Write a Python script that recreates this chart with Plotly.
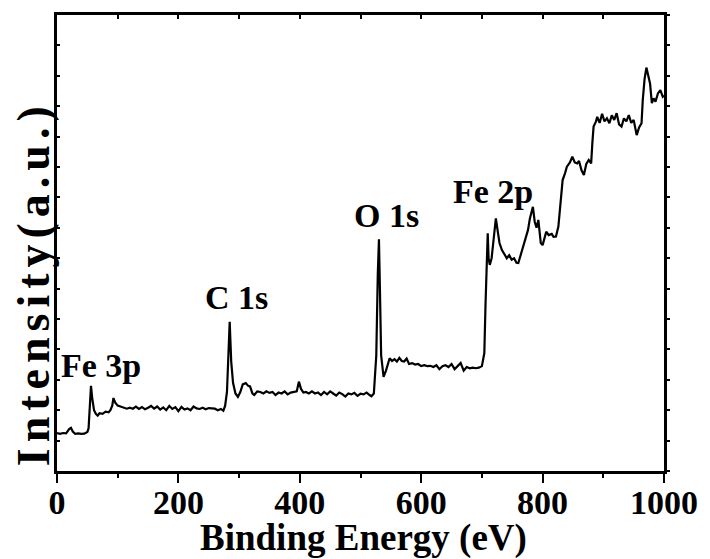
import plotly.graph_objects as go

# Binding energy (eV) and intensity (a.u.)
energy = [0, 5, 10, 15, 20, 23, 26, 30, 35, 40, 45, 50, 52, 54, 56, 58, 61, 64, 67, 70,
          75, 80, 85, 88, 91, 93, 96, 100, 105, 110, 115, 120, 125, 130, 135, 140, 145, 150, 155, 160,
          165, 170, 175, 180, 185, 190, 195, 200, 205, 210, 215, 220, 225, 230, 235, 240, 245, 250, 255, 260,
          265, 270, 274, 277, 280, 282, 284.5, 287, 290, 294, 298, 302, 306, 311, 315, 318, 322, 325, 330, 335,
          340, 345, 350, 355, 360, 365, 370, 375, 380, 385, 390, 395, 398.5, 402, 406, 410, 415, 420, 425, 430,
          435, 440, 445, 450, 455, 460, 465, 470, 475, 480, 485, 490, 495, 500, 505, 510, 515, 518, 522, 526,
          528.5, 530.4, 532, 534, 538, 542, 548, 552, 556, 560, 564, 568, 572, 576, 580, 585, 590, 595, 600, 605,
          610, 615, 620, 625, 630, 635, 640, 645, 650, 655, 660, 665, 670, 675, 680, 685, 690, 695, 700, 704,
          706, 708, 709.6, 711, 713, 716, 719, 721, 723, 726, 729, 733, 737, 741, 745, 749, 753, 757, 760, 764,
          767.6, 771, 776, 779, 782, 784, 787, 790, 793, 797, 800, 803, 806, 810, 815, 818, 822, 826, 829, 833,
          837, 840, 845, 849, 853, 857, 860, 864, 868, 872, 876, 880, 882, 884, 888, 890, 894, 898, 902, 906,
          910, 914, 918, 922, 926, 930, 934, 938, 942, 946, 950, 955, 959, 963, 965, 968, 971, 974, 977, 980,
          983, 986, 990, 994, 998, 1000]
intensity = [1.25, 1.22, 1.25, 1.24, 1.38, 1.42, 1.30, 1.22, 1.24, 1.22, 1.23, 1.28, 1.40, 2.20, 2.80, 2.40, 2.00, 1.88, 1.82, 1.90,
             1.88, 1.95, 1.93, 2.00, 2.15, 2.40, 2.25, 2.15, 2.12, 2.08, 2.05, 2.08, 2.05, 2.12, 2.04, 2.10, 2.03, 2.08, 2.14, 2.05,
             2.12, 2.02, 2.09, 2.00, 2.14, 2.04, 2.10, 1.97, 2.11, 2.02, 2.06, 2.00, 2.12, 2.06, 2.04, 2.08, 2.03, 2.07, 2.05, 2.05,
             2.00, 2.04, 1.98, 2.15, 2.60, 3.80, 4.91, 3.60, 2.90, 2.55, 2.44, 2.60, 2.85, 2.89, 2.80, 2.78, 2.55, 2.50, 2.62, 2.60,
             2.55, 2.62, 2.57, 2.60, 2.50, 2.58, 2.55, 2.62, 2.52, 2.58, 2.60, 2.62, 2.94, 2.70, 2.58, 2.60, 2.55, 2.62, 2.55, 2.58,
             2.50, 2.60, 2.52, 2.62, 2.55, 2.48, 2.58, 2.53, 2.45, 2.55, 2.52, 2.57, 2.47, 2.54, 2.52, 2.58, 2.50, 2.46, 2.55, 3.80,
             6.50, 7.62, 6.00, 3.80, 3.10, 3.30, 3.71, 3.62, 3.68, 3.60, 3.72, 3.62, 3.60, 3.70, 3.52, 3.55, 3.50, 3.52, 3.45, 3.48,
             3.45, 3.46, 3.42, 3.48, 3.35, 3.45, 3.48, 3.42, 3.52, 3.35, 3.45, 3.55, 3.30, 3.42, 3.38, 3.40, 3.38, 3.40, 3.45, 3.88,
             5.50, 7.00, 7.82, 7.00, 6.78, 7.00, 7.60, 8.10, 8.31, 7.90, 7.50, 7.27, 7.15, 7.00, 7.10, 6.95, 7.00, 6.85, 6.84, 7.10,
             7.34, 7.60, 7.93, 8.30, 8.50, 8.69, 8.20, 8.00, 8.26, 7.50, 7.43, 7.70, 7.87, 7.76, 7.80, 7.70, 7.71, 8.04, 8.80, 9.57,
             9.80, 10.01, 10.15, 10.34, 10.15, 10.12, 10.20, 9.90, 9.74, 10.10, 10.23, 10.12, 10.80, 11.33, 11.50, 11.65, 11.45, 11.75, 11.50, 11.60,
             11.44, 11.70, 11.55, 11.77, 11.40, 11.33, 11.60, 11.50, 11.71, 11.45, 11.55, 11.05, 11.30, 11.44, 12.20, 12.90, 13.27, 13.00, 12.75, 12.10,
             12.26, 12.15, 12.42, 12.53, 12.31, 12.35]

peak_labels = ["Fe 3p", "C 1s", "O 1s", "Fe 2p"]
peak_label_x = [73, 295, 543, 718]
peak_label_y = [3.47, 5.72, 8.42, 9.18]

x_ticks = [0, 200, 400, 600, 800, 1000]

FONT = "Liberation Serif"

fig = go.Figure()
fig.add_trace(go.Scatter(x=energy, y=intensity, mode="lines",
                         line=dict(color="black", width=2.2), showlegend=False))
# invisible trace for top/right axes
fig.add_trace(go.Scatter(x=[0, 1000], y=[0, 15], xaxis="x2", yaxis="y2",
                         mode="markers", marker=dict(opacity=0), showlegend=False,
                         hoverinfo="skip"))

for t, xv, yv in zip(peak_labels, peak_label_x, peak_label_y):
    fig.add_annotation(x=xv, y=yv, text=f"<b>{t}</b>", showarrow=False,
                       font=dict(family=FONT, size=34, color="black"),
                       xanchor="center", yanchor="middle")

fig.add_annotation(xref="paper", yref="paper", x=(367 - 57) / 614, y=(471 - 538) / 456,
                   text="<b>Binding Energy (eV)</b>", showarrow=False,
                   font=dict(family=FONT, size=37, color="black"),
                   xanchor="center", yanchor="middle")
fig.add_annotation(xref="paper", yref="paper", x=(33 - 57) / 614, y=(471 - 283) / 456,
                   text="<b><span style='letter-spacing:6px'>Intensity(a.u.)</span></b>", showarrow=False,
                   textangle=-90,
                   font=dict(family=FONT, size=46, color="black"),
                   xanchor="center", yanchor="middle")

fig.update_layout(
    width=710, height=559,
    margin=dict(l=57, r=39, t=15, b=88),
    paper_bgcolor="white", plot_bgcolor="white",
    xaxis=dict(range=[0, 1000], tickvals=x_ticks, ticktext=[str(v) for v in x_ticks],
               ticks="outside", ticklen=9, tickwidth=2, tickcolor="black",
               minor=dict(dtick=100, ticks="outside", ticklen=4, tickwidth=2, tickcolor="black"),
               showline=True, linewidth=2.5, linecolor="black", showgrid=False, zeroline=False,
               tickfont=dict(family=FONT, size=34, color="black", weight="bold"),
               ticklabelstandoff=-10),
    yaxis=dict(range=[0, 15], dtick=1, showticklabels=False,
               ticks="inside", ticklen=3, tickwidth=1.5, tickcolor="black",
               showline=True, linewidth=2.5, linecolor="black", showgrid=False, zeroline=False),
    xaxis2=dict(overlaying="x", side="top", range=[0, 1000], dtick=100, showticklabels=False,
                ticks="inside", ticklen=4, tickwidth=1.5, tickcolor="black",
                showline=True, linewidth=2.5, linecolor="black", showgrid=False, zeroline=False),
    yaxis2=dict(overlaying="y", side="right", range=[0, 15], dtick=1, showticklabels=False,
                ticks="outside", ticklen=3, tickwidth=1.5, tickcolor="black",
                showline=True, linewidth=2.5, linecolor="black", showgrid=False, zeroline=False),
)

fig.write_html("out.html", config={"displayModeBar": False},
               post_script="document.body.style.margin='0';document.body.style.padding='0';")
